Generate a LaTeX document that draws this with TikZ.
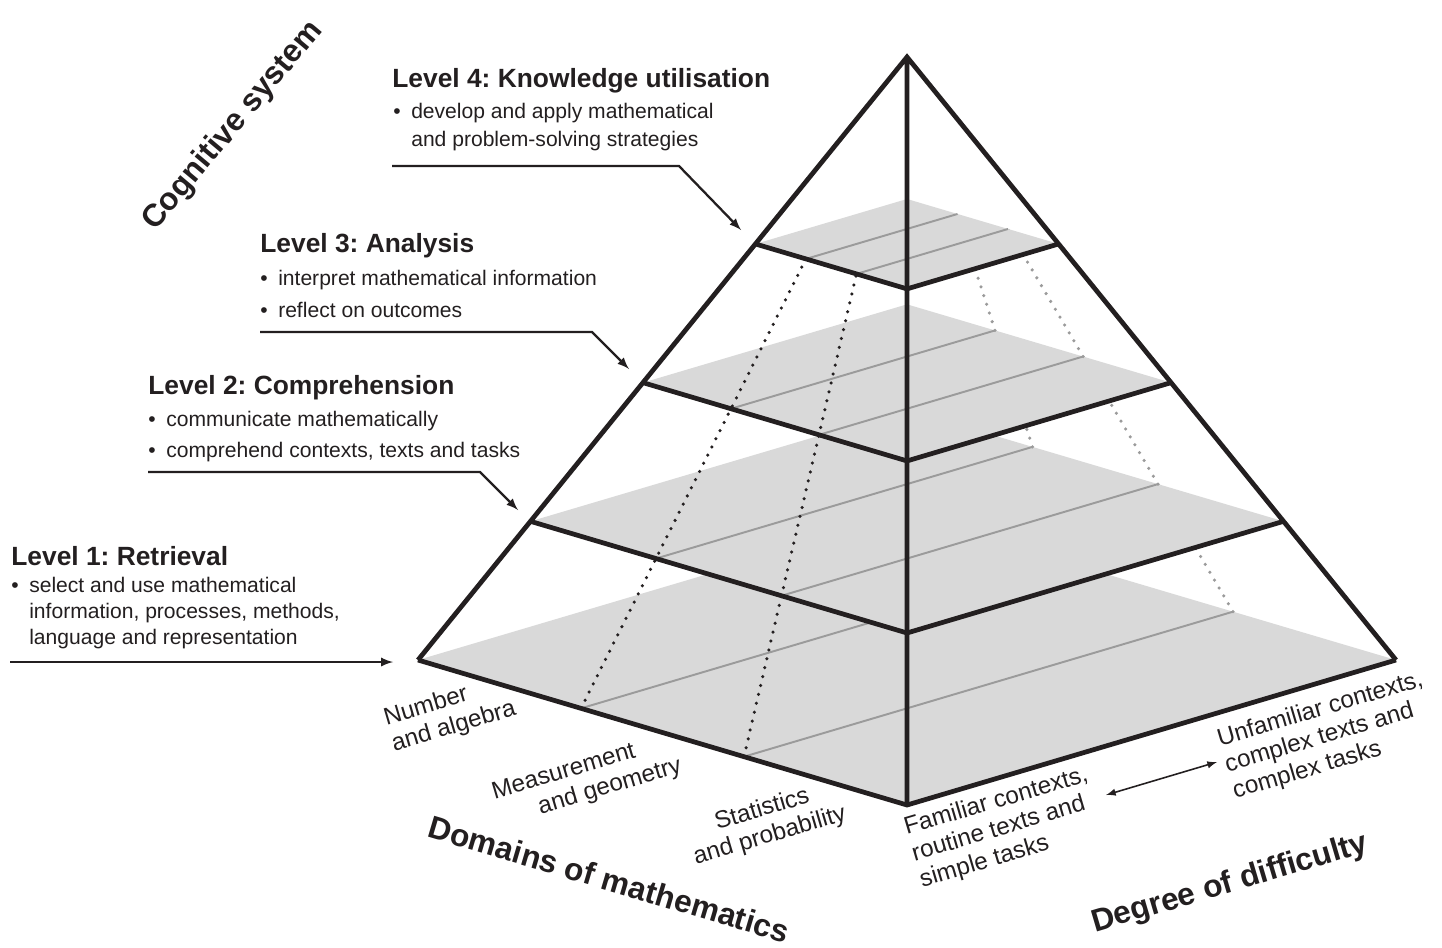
\documentclass[tikz,border=0pt]{standalone}
\usepackage{fontspec}
\setmainfont{Liberation Sans}
\usetikzlibrary{arrows,calc}

\definecolor{ink}{HTML}{231F20}
\definecolor{slabgray}{HTML}{D9D9D9}
\definecolor{hatchgray}{HTML}{9B9B9B}

\newcommand{\bul}{\makebox[10.2pt][l]{\textbullet}}
\newcommand{\bulgap}{\hspace*{10.2pt}}
\frenchspacing

\tikzset{
  edge/.style={line width=2.7pt, draw=ink},
  hatch/.style={line width=1.1pt, draw=hatchgray},
  frontdots/.style={line width=2pt, draw=ink, line cap=round, dash pattern=on 0pt off 5.2pt},
  backdots/.style={frontdots, draw=hatchgray},
  leader/.style={line width=1.3pt, draw=ink, -latex},
  lvltitle/.style={anchor=base west, inner sep=0pt, text=ink, font=\fontsize{15}{18}\selectfont\bfseries},
  lvltext/.style={anchor=base west, inner sep=0pt, text=ink, align=left, font=\fontsize{12}{15.5}\selectfont},
  axislabel/.style={inner sep=0pt, text=ink, font=\fontsize{18}{21}\selectfont\bfseries},
  sidelabel/.style={inner sep=0pt, text=ink, font=\fontsize{13.8}{15.5}\selectfont},
}

\begin{document}
\begin{tikzpicture}[x=0.02cm, y=-0.02cm]
	\useasboundingbox (0,0) rectangle (1442,947);
	% pyramid corners
	\coordinate (A) at (907,57);
	\coordinate (baseL) at (418,660);
	\coordinate (baseF) at (907,805);
	\coordinate (baseR) at (1396,660);
	\coordinate (baseB) at (907,515);
	% slices, bottom to top
	\foreach \k [remember=\k as \prev (initially 0)] in {0,...,3}{
		\pgfmathsetmacro\t{0.23*\k}
		\coordinate (l\k) at ($(baseL)!\t!(A)$);
		\coordinate (f\k) at ($(baseF)!\t!(A)$);
		\coordinate (r\k) at ($(baseR)!\t!(A)$);
		\coordinate (b\k) at ($(baseB)!\t!(A)$);
		\coordinate (pa\k) at ($(l\k)!1/3!(f\k)$);
		\coordinate (pb\k) at ($(l\k)!2/3!(f\k)$);
		\coordinate (qa\k) at ($(b\k)!1/3!(r\k)$);
		\coordinate (qb\k) at ($(b\k)!2/3!(r\k)$);
		\ifnum\k>0
			\draw[backdots] (qa\prev) -- (qa\k);
			\draw[backdots] (qb\prev) -- (qb\k);
		\fi
		\fill[slabgray] (l\k) -- (f\k) -- (r\k) -- (b\k) -- cycle;
		\draw[hatch] (pa\k) -- (qa\k) (pb\k) -- (qb\k);
	}
	\draw[frontdots] (pa0) -- (pa3) (pb0) -- (pb3);
	\draw[edge] (baseL) -- (A) -- (baseR) (A) -- (baseF);
	\foreach \k in {0,...,3}
		\draw[edge] (l\k) -- (f\k) -- (r\k);

	% cognitive levels
	\node[axislabel, rotate=50] (cogsys) at (233,126) {Cognitive system};

	\node[lvltitle] (lvl4) at (392,87) {Level 4: Knowledge utilisation};
	\node[lvltext, font=\fontsize{12}{15.9}\selectfont] (lvl4a) at (393,146) {\bul develop and apply mathematical\\\bulgap and problem-solving strategies};
	\coordinate (lead4) at (392,166);
	\coordinate (bend4) at (679,166);
	\coordinate (tip4) at (741,230);
	\draw[leader] (lead4) -- (bend4) -- (tip4);

	\node[lvltitle] (lvl3) at (260,252) {Level 3: Analysis};
	\node[lvltext] (lvl3a) at (260,285) {\bul interpret mathematical information};
	\node[lvltext] (lvl3b) at (260,317) {\bul reflect on outcomes};
	\coordinate (lead3) at (260,332);
	\coordinate (bend3) at (592,332);
	\coordinate (tip3) at (629,369);
	\draw[leader] (lead3) -- (bend3) -- (tip3);

	\node[lvltitle] (lvl2) at (148,394) {Level 2: Comprehension};
	\node[lvltext] (lvl2a) at (148,426) {\bul communicate mathematically};
	\node[lvltext] (lvl2b) at (148,457) {\bul comprehend contexts, texts and tasks};
	\coordinate (lead2) at (148,472);
	\coordinate (bend2) at (480,472);
	\coordinate (tip2) at (518,510);
	\draw[leader] (lead2) -- (bend2) -- (tip2);

	\node[lvltitle] (lvl1) at (11,565) {Level 1: Retrieval};
	\node[lvltext, font=\fontsize{12}{14.7}\selectfont] (lvl1a) at (11,644) {\bul select and use mathematical\\\bulgap information, processes, methods,\\\bulgap language and representation};
	\coordinate (lead1) at (10,662);
	\coordinate (tip1) at (393,662);
	\draw[leader] (lead1) -- (tip1);

	% domains
	\node[sidelabel, rotate=16.5, align=left] (numalg) at (450,714) {Number\\and algebra};
	\node[sidelabel, rotate=16.5, align=left] (measgeo) at (587,780) {Measurement\\\hspace*{22.7pt}and geometry};
	\node[sidelabel, rotate=16.5, align=center] (statprob) at (766,823) {Statistics\\and probability};
	\node[axislabel, rotate=-16.5] (domains) at (609,879) {Domains of mathematics};

	% difficulty
	\node[sidelabel, rotate=16.5, align=left] (familiar) at (1004,828) {Familiar contexts,\\routine texts and\\simple tasks};
	\node[sidelabel, rotate=16.5, align=left] (unfamiliar) at (1328,736) {Unfamiliar contexts,\\complex texts and\\complex tasks};
	\coordinate (easy) at (1106,795);
	\coordinate (hard) at (1217,762);
	\draw[line width=0.9pt, ink, latex-latex] (easy) -- (hard);
	\node[axislabel, rotate=16.5] (difficulty) at (1230,884) {Degree of difficulty};
\end{tikzpicture}
\end{document}
